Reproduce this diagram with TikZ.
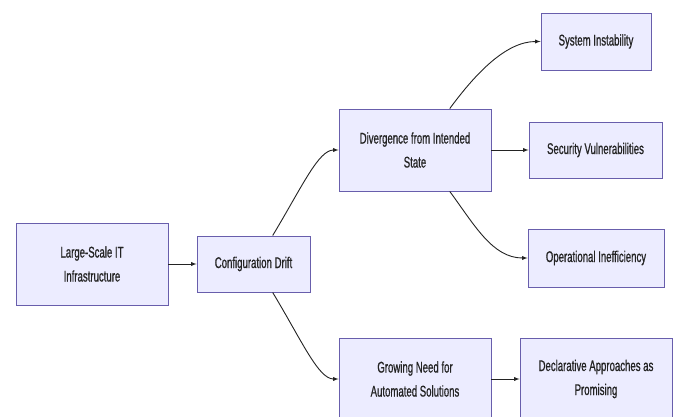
\documentclass[tikz,border=0pt]{standalone}
\usepackage{fontspec}
\setmainfont{Liberation Sans}
\newfontfamily\boxfont[FakeStretch=0.62, FakeBold=0.8]{Liberation Sans}
\definecolor{boxfill}{HTML}{ECECFF}
\definecolor{boxline}{RGB}{104,94,172}
\definecolor{inkgray}{RGB}{35,35,35}

\begin{document}
\begin{tikzpicture}[x=1pt, y=-1pt,
        stage/.style={draw=boxline, fill=boxfill, line width=0.9pt, inner sep=0pt, align=center,
            text=inkgray, font=\boxfont\fontsize{15.5}{24}\selectfont},
        link/.style={draw=inkgray, line width=0.9pt, -latex}]
        \useasboundingbox (0,0) rectangle (678,417);
        \node[stage, minimum width=152pt, minimum height=82pt] (infra) at (92,264) {Large-Scale IT\\Infrastructure};
        \node[stage, minimum width=113pt, minimum height=56pt] (drift) at (253.5,264) {Configuration Drift};
        \node[stage, minimum width=152pt, minimum height=82pt] (diverge) at (415,150) {Divergence from Intended\\State};
        \node[stage, minimum width=110pt, minimum height=57pt] (instab) at (596,41.5) {System Instability};
        \node[stage, minimum width=133pt, minimum height=56pt] (secvul) at (595.5,150) {Security Vulnerabilities};
        \node[stage, minimum width=136pt, minimum height=58pt] (opineff) at (596,258) {Operational Inefficiency};
        \node[stage, minimum width=152pt, minimum height=82pt] (autoneed) at (415,379) {Growing Need for\\Automated Solutions};
        \node[stage, minimum width=152pt, minimum height=82pt] (declar) at (596,379) {Declarative Approaches as\\Promising};
        \draw[link] (infra) -- (drift);
        \draw[link] (drift.56) .. controls +(30,-50) and +(-20,0) .. (diverge.west);
        \draw[link] (drift.-56) .. controls +(30,50) and +(-20,0) .. (autoneed.west);
        \draw[link] (diverge.50) .. controls +(25,-34) and +(-35,0) .. (instab.west);
        \draw[link] (diverge) -- (secvul);
        \draw[link] (diverge.-50) .. controls +(25,34) and +(-35,0) .. (opineff.west);
        \draw[link] (autoneed) -- (declar);
    \end{tikzpicture}
\end{document}
